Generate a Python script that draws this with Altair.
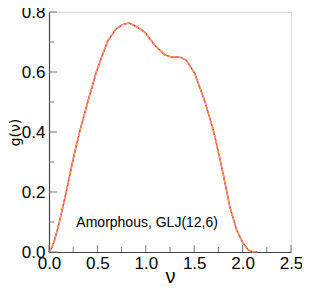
import altair as alt
import pandas as pd

nu = [0.0, 0.03, 0.057, 0.10, 0.178, 0.25, 0.316, 0.40, 0.489, 0.55, 0.609, 0.695, 0.76, 0.826,
      0.90, 0.989, 1.092, 1.196, 1.265, 1.33, 1.368, 1.42, 1.506, 1.61, 1.696, 1.747, 1.799,
      1.869, 1.938, 2.006, 2.058, 2.10, 2.15]
g = [0.0, 0.015, 0.04, 0.09, 0.20, 0.31, 0.40, 0.50, 0.60, 0.655, 0.705, 0.744, 0.758, 0.763,
     0.752, 0.733, 0.689, 0.657, 0.650, 0.650, 0.648, 0.639, 0.595, 0.502, 0.408, 0.337, 0.260,
     0.150, 0.073, 0.029, 0.007, 0.001, 0.0]

x_major = [0.0, 0.5, 1.0, 1.5, 2.0, 2.5]
x_minor = [0.25, 0.75, 1.25, 1.75, 2.25]
y_major = [0.0, 0.2, 0.4, 0.6, 0.8]
y_minor = [0.1, 0.3, 0.5, 0.7]

label_text = ["Amorphous, GLJ(12,6)"]
label_x = [1.014]
label_y = [0.097]

W, H = 242, 240
xscale = alt.Scale(domain=[0, 2.5], nice=False, zero=False)
yscale = alt.Scale(domain=[0, 0.8], nice=False, zero=False)

df = pd.DataFrame({"nu": nu, "g": g})

xaxis = alt.Axis(values=x_major, format=".1f", ticks=False, grid=False, title="ν",
                 labelFontSize=17, labelFont="Liberation Sans", labelColor="black",
                 labelPadding=3, titleFontSize=20, titleFont="Liberation Sans",
                 titleFontWeight="normal", titleColor="black", titleBaseline="alphabetic",
                 titleY=30, domainColor="#444", domainWidth=1.2, labelFlush=False)
yaxis = alt.Axis(values=y_major, format=".1f", ticks=False, grid=False, title="g(ν)",
                 labelFontSize=17, labelFont="Liberation Sans", labelColor="black",
                 labelPadding=4, titleFontSize=14, titleFont="DejaVu Sans",
                 titleFontWeight="normal", titleColor="black", titleX=-41,
                 titleBaseline="top", domainColor="#444", domainWidth=1.2, labelFlush=False)

line_under = alt.Chart(df).mark_line(color="#d02090", strokeWidth=1.5).encode(
    x=alt.X("nu:Q", scale=xscale, axis=xaxis),
    y=alt.Y("g:Q", scale=yscale, axis=yaxis),
    order="nu:Q",
)
line_over = alt.Chart(df).mark_line(color="#ffa040", strokeWidth=1.4, strokeDash=[4, 1]).encode(
    x=alt.X("nu:Q", scale=xscale),
    y=alt.Y("g:Q", scale=yscale),
    order="nu:Q",
)

tick_color = "#777"
xt_major = alt.Chart(pd.DataFrame({"v": x_major})).mark_rule(color=tick_color, strokeWidth=1).encode(
    x=alt.X("v:Q", scale=xscale), y=alt.value(H), y2=alt.value(H - 7))
xt_minor = alt.Chart(pd.DataFrame({"v": x_minor})).mark_rule(color=tick_color, strokeWidth=1).encode(
    x=alt.X("v:Q", scale=xscale), y=alt.value(H), y2=alt.value(H - 5))
yt_major = alt.Chart(pd.DataFrame({"v": y_major})).mark_rule(color=tick_color, strokeWidth=1).encode(
    y=alt.Y("v:Q", scale=yscale), x=alt.value(0), x2=alt.value(8))
yt_minor = alt.Chart(pd.DataFrame({"v": y_minor})).mark_rule(color=tick_color, strokeWidth=1).encode(
    y=alt.Y("v:Q", scale=yscale), x=alt.value(0), x2=alt.value(5))

text = alt.Chart(pd.DataFrame({"t": label_text, "x": label_x, "y": label_y})).mark_text(
    font="Liberation Sans", fontSize=14, color="black", align="center", baseline="middle").encode(
    x=alt.X("x:Q", scale=xscale), y=alt.Y("y:Q", scale=yscale), text="t:N")

chart = alt.layer(line_under, line_over, xt_major, xt_minor, yt_major, yt_minor, text).properties(
    width=W, height=H,
    autosize=alt.AutoSizeParams(type="none"),
    padding={"left": 41, "top": 4, "right": 11, "bottom": 31},
).configure_view(stroke="#555", strokeWidth=1.5).configure(background="white")

chart.save("out.html", embed_options={"renderer": "svg", "actions": False})
